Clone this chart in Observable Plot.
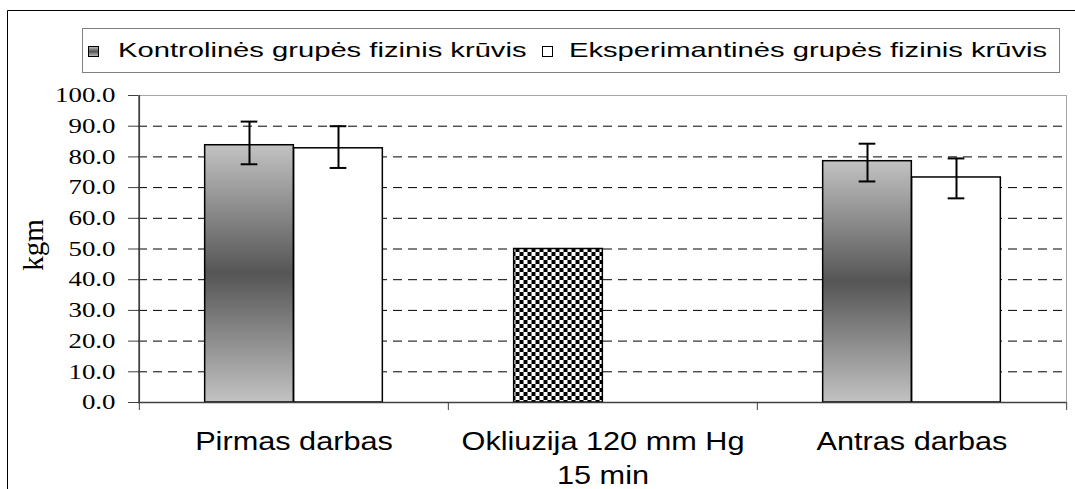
<!DOCTYPE html>
<html><head><meta charset="utf-8">
<script src="https://cdn.jsdelivr.net/npm/d3@7"></script>
<script src="https://cdn.jsdelivr.net/npm/@observablehq/plot@0.6"></script>
<style>
html,body{margin:0;padding:0;background:#fff;}
#chart{position:relative;width:1075px;height:489px;overflow:hidden;color:#000;}
</style></head><body><div id="chart"></div>
<script>
// ---- data ----
const categories = ["Pirmas darbas", "Okliuzija 120 mm Hg\n15 min", "Antras darbas"];
const seriesNames = ["Kontrolinės grupės fizinis krūvis", "Eksperimantinės grupės fizinis krūvis"];
const kontrolValues = [83.8, null, 78.6];
const kontrolHigh   = [91.5, null, 84.3];
const kontrolLow    = [77.6, null, 72.0];
const eksperValues  = [82.8, null, 73.3];
const eksperHigh    = [90.0, null, 79.5];
const eksperLow     = [76.4, null, 66.5];
const okliuzijaValues = [null, 50.0, null];
const yTicks = [0, 10, 20, 30, 40, 50, 60, 70, 80, 90, 100];
const gridTicks = [10, 20, 30, 40, 50, 60, 70, 80, 90];
const yLabel = "kgm";

// ---- layout ----
const W = 1075, H = 489, mL = 138, mR = 9, mT = 95, mB = 87;
const step = (W - mL - mR) / categories.length;
const barW = 89;
const inset = (step - barW) / 2;
const capW = 17;
const capInset = (step - capW) / 2;

function rows(values, hi, lo) {
  return categories.map((c, i) => ({cat: c, value: values[i], hi: hi ? hi[i] : null, lo: lo ? lo[i] : null}))
    .filter(d => d.value != null);
}
const kontrol = rows(kontrolValues, kontrolHigh, kontrolLow);
const eksper = rows(eksperValues, eksperHigh, eksperLow);
const okl = rows(okliuzijaValues);

const barStyle = {stroke: "#000", strokeWidth: 1.5, insetLeft: inset, insetRight: inset};
const errStyle = {stroke: "#000", strokeWidth: 2};

function errorMarks(data, dx) {
  return [
    Plot.ruleX(data, {x: "cat", y1: "lo", y2: "hi", dx, ...errStyle}),
    Plot.tickY(data, {x: "cat", y: "hi", dx, insetLeft: capInset, insetRight: capInset, ...errStyle}),
    Plot.tickY(data, {x: "cat", y: "lo", dx, insetLeft: capInset, insetRight: capInset, ...errStyle})
  ];
}

const serif = "'Liberation Serif', 'Times New Roman', serif";
const sans = "'Liberation Sans', Arial, sans-serif";

const plot = Plot.plot({
  width: W, height: H,
  marginLeft: mL, marginRight: mR, marginTop: mT, marginBottom: mB,
  x: {type: "band", domain: categories, padding: 0},
  y: {domain: [0, 100]},
  marks: [
    Plot.frame({stroke: "#a6a6a6"}),
    Plot.ruleY(gridTicks, {stroke: "#000", strokeDasharray: "9,6"}),
    Plot.barY(kontrol, {x: "cat", y: "value", dx: -barW / 2, fill: "url(#gradKontrol)", ...barStyle}),
    Plot.barY(okl, {x: "cat", y: "value", dx: -barW / 2, fill: "url(#checker)", ...barStyle}),
    Plot.barY(eksper, {x: "cat", y: "value", dx: barW / 2, fill: "#fff", ...barStyle}),
    ...errorMarks(kontrol, -barW / 2),
    ...errorMarks(eksper, barW / 2),
    Plot.ruleY([0], {stroke: "#404040", strokeWidth: 1.5}),
    Plot.ruleX([categories[0]], {x: d => d, dx: -step / 2, stroke: "#404040", strokeWidth: 1.5}),
    Plot.ruleX(categories, {x: d => d, dx: -step / 2, y1: 0, y2: 0, insetBottom: -8, stroke: "#404040"}),
    Plot.ruleX([categories[categories.length - 1]], {x: d => d, dx: step / 2, y1: 0, y2: 0, insetBottom: -8, stroke: "#404040"}),
    Plot.axisY(yTicks, {tickSize: 10, tickPadding: 13, tickFormat: d => d.toFixed(1), label: null,
      stroke: "#404040", fill: "#000", fontSize: 21, fontFamily: serif}),
    Plot.axisX({tickSize: 0, tickPadding: 24, label: null, fill: "#000",
      fontSize: 26, fontFamily: sans, lineHeight: 1.29}),
    Plot.text([yLabel], {frameAnchor: "left", textAnchor: "middle", dx: -105, dy: -4, rotate: -90,
      fontSize: 29, fontFamily: serif, fill: "#000"})
  ]
});

document.getElementById("chart").appendChild(plot);
const svg = d3.select(plot);

// defs: gradient and checker pattern
const defs = svg.insert("defs", ":first-child");
const g = defs.append("linearGradient").attr("id", "gradKontrol")
  .attr("x1", 0).attr("y1", 0).attr("x2", 0).attr("y2", 1);
g.append("stop").attr("offset", "0%").attr("stop-color", "#c2c2c2");
g.append("stop").attr("offset", "50%").attr("stop-color", "#555555");
g.append("stop").attr("offset", "100%").attr("stop-color", "#c2c2c2");
const p = defs.append("pattern").attr("id", "checker").attr("patternUnits", "userSpaceOnUse")
  .attr("width", 8).attr("height", 8);
p.append("rect").attr("width", 8).attr("height", 8).attr("fill", "#fff");
p.append("rect").attr("width", 4).attr("height", 4).attr("fill", "#000");
p.append("rect").attr("x", 4).attr("y", 4).attr("width", 4).attr("height", 4).attr("fill", "#000");

// horizontal stretch of text glyphs (the reference text is wide); keeps vertical offsets
function stretch(sel, sx) {
  sel.each(function() {
    const xa = this.getAttribute("x");
    const x = xa && !/em$/.test(xa) ? +xa : 0;
    if (xa && !/em$/.test(xa)) this.removeAttribute("x");
    const tr = this.getAttribute("transform") || "";
    this.setAttribute("transform", `${tr} translate(${x},0) scale(${sx},1)`);
  });
}
stretch(svg.selectAll('g[aria-label="y-axis tick label"] text'), 1.28);
stretch(svg.selectAll('g[aria-label="x-axis tick label"] text'), 1.18);

// outer frame
svg.append("path").attr("d", "M7.5,489V10.5H1075").attr("fill", "none").attr("stroke", "#000");

// legend
const lg = svg.append("g").attr("aria-label", "legend").attr("text-anchor", "start");
lg.append("rect").attr("x", 82.5).attr("y", 28.5).attr("width", 977).attr("height", 44)
  .attr("fill", "#fff").attr("stroke", "#808080");
const legendItems = [
  {name: seriesNames[0], fill: "url(#gradKontrol)", sx: 88.5, tx: 118},
  {name: seriesNames[1], fill: "#fff", sx: 542.5, tx: 569}
];
legendItems.forEach(it => {
  lg.append("rect").attr("x", it.sx).attr("y", 46.5).attr("width", 10).attr("height", 10)
    .attr("fill", it.fill).attr("stroke", "#000");
  lg.append("text").text(it.name)
    .attr("text-anchor", "start")
    .attr("transform", `translate(${it.tx},57.3) scale(1.39,1)`)
    .attr("font-family", sans).attr("font-size", 21).attr("fill", "#000");
});
</script></body></html>
